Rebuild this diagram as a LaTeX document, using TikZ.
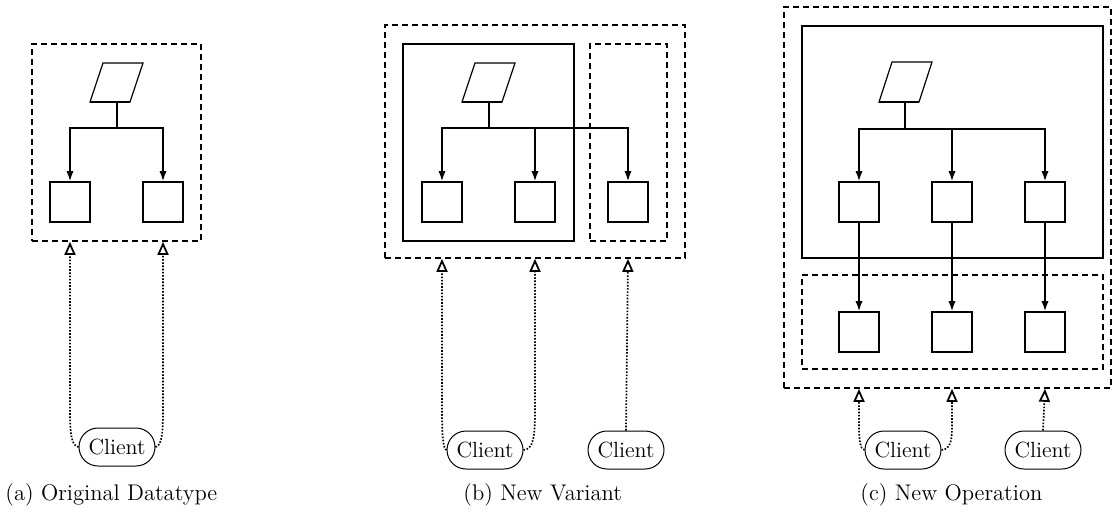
\documentclass[tikz,border=0pt]{standalone}
\usetikzlibrary{arrows.meta,shapes.misc,fit}
\begin{document}
\begin{tikzpicture}[x=0.5pt,y=-0.5pt,
  every node/.style={font=\fontsize{11}{13}\selectfont},
  ln/.style={line width=0.75pt},
  cls/.style={draw,line width=0.85pt,minimum size=20pt,inner sep=0pt},
  dbox/.style={draw,line width=0.8pt,dash pattern=on 3pt off 2pt,inner sep=0pt},
  sbox/.style={draw,line width=0.85pt,inner sep=0pt},
  arr/.style={line width=0.75pt,-{Latex[length=5pt,width=3.6pt]}},
  uses/.style={line width=0.85pt,dash pattern=on 0.8pt off 0.8pt,-{Triangle[open,length=6.5pt,width=5.5pt,line width=0.9pt]}},
  client/.style={draw,rounded rectangle,line width=0.5pt,minimum width=40pt,minimum height=19pt,inner sep=1pt},
  para/.style={line width=0.6pt},
  captext/.style={anchor=base west,inner sep=0pt,font=\fontsize{11.3}{13}\selectfont}]
\useasboundingbox (0,0) rectangle (1112,516);

% ---------------- (a) ----------------
\node[dbox,fit={(32,44)(201,241)}] (Aout) {};
\draw[para] (90,102) -- (130,102) -- (143,63) -- (103,63) -- cycle;
\draw[ln,line width=1pt] (90,102) -- (130,102);
\coordinate (ha) at (117,128);
\node[cls] (a1) at (70,202) {};
\node[cls] (a2) at (163,202) {};
\draw[ln] (117,102) -- (ha);
\draw[arr] (ha) -| (a1.north);
\draw[arr] (ha) -| (a2.north);
\node[client] (ca) at (117,447) {Client};
\draw[uses] (ca.west) .. controls (71,446) and (70,432) .. (70,410) -- (a1 |- Aout.south);
\draw[uses] (ca.east) .. controls (162,446) and (163,432) .. (163,410) -- (a2 |- Aout.south);
\node[captext] (capa) at (5,500) {(a) Original Datatype};

% ---------------- (b) ----------------
\node[dbox,fit={(385,25)(685,258)}] (Bout) {};
\node[sbox,fit={(403,44)(574,241)}] (Bin) {};
\node[dbox,fit={(590,44)(667,241)}] (Bnew) {};
\draw[para] (462,102) -- (502,102) -- (515,63) -- (475,63) -- cycle;
\draw[ln,line width=1pt] (462,102) -- (502,102);
\coordinate (hb) at (489,128);
\node[cls] (b1) at (442,202) {};
\node[cls] (b2) at (535,202) {};
\node[cls] (b3) at (628,202) {};
\draw[ln] (489,102) -- (hb);
\draw[arr] (hb) -| (b1.north);
\draw[arr] (hb) -| (b2.north);
\draw[arr] (hb) -| (b3.north);
\node[client] (cb1) at (485,450) {Client};
\node[client] (cb2) at (626,450) {Client};
\draw[uses] (cb1.west) .. controls (443,449) and (442,435) .. (442,410) -- (b1 |- Bout.south);
\draw[uses] (cb1.east) .. controls (534,449) and (535,435) .. (535,410) -- (b2 |- Bout.south);
\draw[uses] (cb2.north) -- (b3 |- Bout.south);
\node[captext] (capb) at (463,500) {(b) New Variant};

% ---------------- (c) ----------------
\node[dbox,fit={(784,7)(1111,388)}] (Cout) {};
\node[sbox,fit={(802,26)(1103,258)}] (Cin) {};
\node[dbox,fit={(802,275)(1103,369)}] (Cop) {};
\draw[para] (879,102) -- (919,102) -- (932,62) -- (892,62) -- cycle;
\draw[ln,line width=1pt] (879,102) -- (919,102);
\coordinate (hc) at (905,129);
\node[cls] (c1) at (859,202) {};
\node[cls] (c2) at (952,202) {};
\node[cls] (c3) at (1045,202) {};
\node[cls] (d1) at (859,332) {};
\node[cls] (d2) at (952,332) {};
\node[cls] (d3) at (1045,332) {};
\draw[ln] (905,102) -- (hc);
\draw[arr] (hc) -| (c1.north);
\draw[arr] (hc) -| (c2.north);
\draw[arr] (hc) -| (c3.north);
\draw[arr] (c1) -- (d1);
\draw[arr] (c2) -- (d2);
\draw[arr] (c3) -- (d3);
\node[client] (cc1) at (903,450) {Client};
\node[client] (cc2) at (1043,450) {Client};
\draw[uses] (cc1.west) .. controls (860,449) and (859,440) .. (859,425) -- (c1 |- Cout.south);
\draw[uses] (cc1.east) .. controls (951,449) and (952,440) .. (952,425) -- (c2 |- Cout.south);
\draw[uses] (cc2.north) -- (c3 |- Cout.south);
\node[captext] (capc) at (860,500) {(c) New Operation};
\end{tikzpicture}
\end{document}
